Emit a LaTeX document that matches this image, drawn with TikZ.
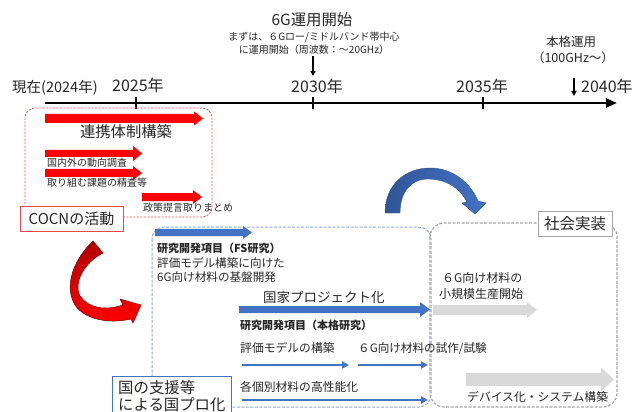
\documentclass[tikz,border=0pt]{standalone}
\usepackage{fontspec}
\setmainfont{Noto Sans CJK JP}
\usetikzlibrary{arrows.meta}
\definecolor{txt}{HTML}{262626}
\definecolor{myred}{HTML}{FF0000}
\definecolor{darkred}{HTML}{B00000}
\definecolor{myblue}{HTML}{4472C4}
\definecolor{darkblue}{HTML}{2F5597}
\definecolor{mygray}{HTML}{D9D9D9}
\definecolor{reddash}{HTML}{FF4D4D}
\definecolor{bluedash}{HTML}{8FAADC}
\definecolor{graydash}{HTML}{A6A6A6}
\definecolor{cocnred}{HTML}{E8474A}
\newcommand\fsz[1]{\fontsize{#1}{#1}\selectfont}
\newcommand\blkarrow[7]{%
  \fill[#7] (#1,{#3-#4/2}) -- ({#2-#6},{#3-#4/2}) -- ({#2-#6},{#3-#5/2}) -- (#2,#3) -- ({#2-#6},{#3+#5/2}) -- ({#2-#6},{#3+#4/2}) -- (#1,{#3+#4/2}) -- cycle;}
\tikzset{
  lbl/.style={inner sep=0pt, text=txt},
  lblw/.style={lbl, anchor=west},
  smallarr/.style={line width=1.2pt, -{Triangle[length=5pt,width=5pt]}},
  bluethin/.style={myblue, line width=2pt, -{Triangle[length=7pt,width=7pt]}},
  tick/.style={line width=1.2pt},
}
\begin{document}
\begin{tikzpicture}[x=1pt,y=-1pt]
\useasboundingbox (0,0) rectangle (641,412);
% ---- timeline ----
\draw[line width=2.4pt, -{Triangle[length=11pt,width=9pt]}] (45,103) -- (617,103);
\draw[tick] (136,97) -- (136,109);
\draw[tick] (313,97) -- (313,109);
\draw[tick] (483,97) -- (483,109);
\node[lblw, font=\fsz{14.5}] (now) at (12,88) {現在(2024年)};
\node[lblw, font=\fsz{16}] (y25) at (112,85) {2025年};
\node[lbl, font=\fsz{16}] (y30) at (317,86) {2030年};
\node[lbl, font=\fsz{16}] (y35) at (482,86) {2035年};
\node[lblw, font=\fsz{16}] (y40) at (581,86) {2040年};
\node[lbl, font=\fsz{15.4}] (g6) at (312,20) {6G運用開始};
\node[lbl, font=\fsz{10}] (g6a) at (314,37) {まずは、６Gロー/ミドルバンド帯中心};
\node[lbl, font=\fsz{10}] (g6b) at (314,50) {に運用開始（周波数：～20GHz）};
\coordinate (a1s) at (313,56); \coordinate (a1e) at (313,76);
\draw[smallarr] (a1s) -- (a1e);
\node[lbl, font=\fsz{12.5}] (hk) at (571,42) {本格運用};
\node[lbl, font=\fsz{12.5}] (hz) at (573,58) {（100GHz～）};
\coordinate (a2s) at (574,78); \coordinate (a2e) at (574,96);
\draw[smallarr] (a2s) -- (a2e);
% ---- COCN ----
\draw[reddash, dash pattern=on 2pt off 1.5pt, line width=0.9pt, rounded corners=10pt] (25,108) rectangle (212,217);
\blkarrow{45}{203}{118.5}{9}{14}{9}{myred}
\node[lbl, font=\fsz{15.3}] (renkei) at (126,132) {連携体制構築};
\blkarrow{45}{142}{153.5}{7}{15}{9}{myred}
\node[lblw, font=\fsz{10}] (t1) at (47,163) {国内外の動向調査};
\blkarrow{45}{142}{173}{8}{14}{9}{myred}
\node[lblw, font=\fsz{10}] (t2) at (47,183) {取り組む課題の精査等};
\blkarrow{142}{202}{197}{8}{14}{9}{myred}
\node[lblw, font=\fsz{10}] (t3) at (143,208) {政策提言取りまとめ};
\node[draw=cocnred, line width=0.9pt, fill=white, minimum width=103pt, minimum height=25pt, inner sep=0pt, text=txt, font=\fsz{15}] (cocn) at (71.5,218.5) {COCNの活動};
% red curved arrow
\draw[draw=darkred!70!black, line width=0.5pt, top color=darkred, bottom color=myred]
  (93,241) .. controls (75,258) and (63,285) .. (75,305)
  .. controls (85,320) and (110,324) .. (131,319) -- (133,323) -- (141,305) -- (120,299) -- (123,305)
  .. controls (105,311) and (88,308) .. (80,296)
  .. controls (73,282) and (85,262) .. (103,253) -- cycle;
% ---- national project box ----
\draw[bluedash, dash pattern=on 3pt off 1.5pt, line width=1pt, rounded corners=12pt] (152,227) rectangle (431,407);
% ---- social implementation box ----
\draw[graydash, dash pattern=on 3pt off 1.5pt, line width=1.2pt, rounded corners=14pt] (430,223) rectangle (617,407);
\node[draw=graydash, line width=0.9pt, fill=white, minimum width=74pt, minimum height=25pt, inner sep=0pt, text=txt, font=\fsz{15.5}] (shakai) at (575,223.5) {社会実装};
% blue curved arrow
\draw[draw=darkblue, line width=0.4pt, left color=darkblue, right color=myblue]
  (385,213) .. controls (385,185) and (405,168) .. (430,168)
  .. controls (452,168) and (470,182) .. (478,201) -- (486,203) -- (475,214) -- (462,203) -- (467,202)
  .. controls (460,188) and (446,179) .. (428,179)
  .. controls (410,179) and (400,193) .. (400,213) -- cycle;
% FS study
\blkarrow{155}{252}{232.5}{7}{13}{9}{myblue}
\node[lblw, font=\fsz{11}\bfseries] (fs) at (157,248) {研究開発項目（FS研究）};
\node[lblw, font=\fsz{11.6}] (fs1) at (157,263) {評価モデル構築に向けた};
\node[lblw, font=\fsz{11.6}] (fs2) at (157,277) {6G向け材料の基盤開発};
\node[lblw, font=\fsz{13.5}] (kokka) at (263,297) {国家プロジェクト化};
\blkarrow{239}{430}{309.5}{7}{15}{10}{myblue}
\node[lblw, font=\fsz{11}\bfseries] (honkaku) at (240,325) {研究開発項目（本格研究）};
\node[lblw, font=\fsz{11.8}] (hyoka) at (240,348) {評価モデルの構築};
\node[lblw, font=\fsz{11.6}] (shisaku) at (358,349) {６G向け材料の試作/試験};
\coordinate (b1s) at (242,365); \coordinate (b1e) at (349,365);
\coordinate (b2s) at (358,365); \coordinate (b2e) at (428,365);
\draw[bluethin] (b1s) -- (b1e);
\draw[bluethin] (b2s) -- (b2e);
\node[lblw, font=\fsz{11.8}] (kobetsu) at (240,387) {各個別材料の高性能化};
\coordinate (b3s) at (242,400); \coordinate (b3e) at (428,400);
\draw[bluethin] (b3s) -- (b3e);
\draw[myblue, line width=0.9pt, fill=white] (112,376) rectangle (231,415);
\node[lblw, font=\fsz{15.4}] (kuni1) at (118,388) {国の支援等};
\node[lblw, font=\fsz{15.4}] (kuni2) at (118,404.5) {による国プロ化};
% social implementation contents
\node[lblw, font=\fsz{12}] (sh1) at (442,278) {６G向け材料の};
\node[lblw, font=\fsz{12}] (sh2) at (439,294) {小規模生産開始};
\blkarrow{433}{537}{310}{10}{16}{10}{mygray}
\blkarrow{466}{614}{379.5}{13}{24}{13}{mygray}
\node[lblw, font=\fsz{11.8}] (device) at (467,397) {デバイス化・システム構築};
\end{tikzpicture}
\end{document}
